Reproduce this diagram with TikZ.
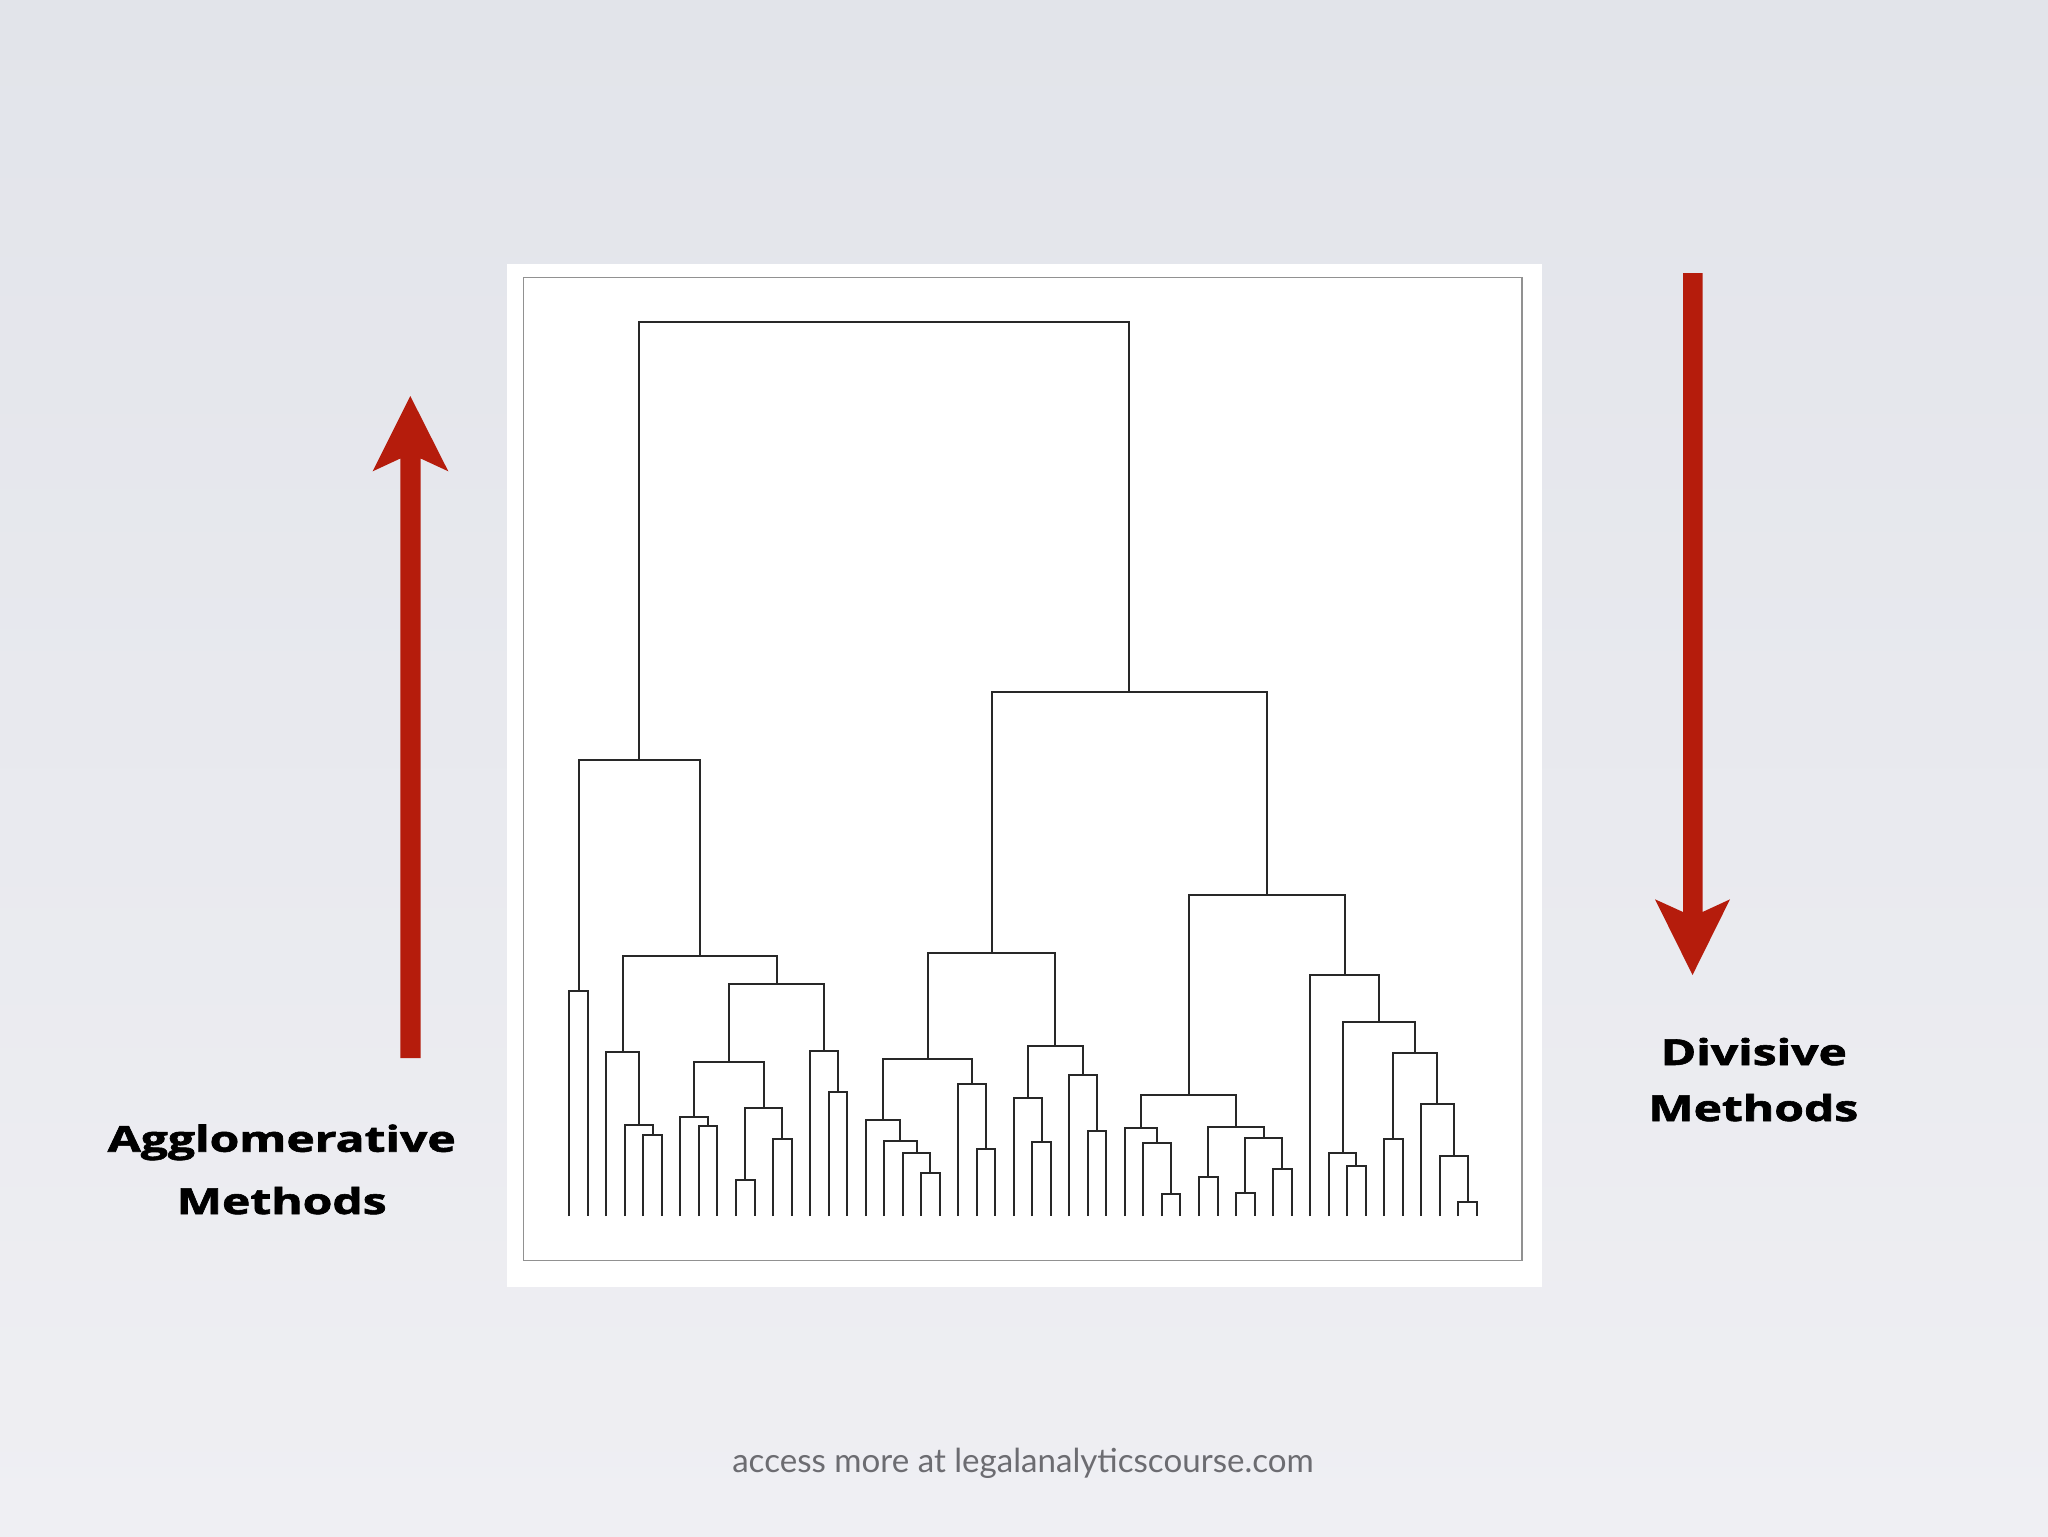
\documentclass[tikz,border=0pt]{standalone}
\usepackage{fontspec}
\usepackage{graphicx}
\setmainfont{Open Sans}
\newfontfamily\headfont[BoldFeatures={FakeBold=1.6}]{Open Sans}
\newfontfamily\footfont{Lato}
\definecolor{arrowred}{RGB}{181,28,12}
\definecolor{bgtop}{RGB}{226,228,234}
\definecolor{bgbot}{RGB}{239,239,243}
\definecolor{framegray}{RGB}{145,145,145}
\definecolor{dendcol}{RGB}{40,40,40}
\definecolor{footgray}{RGB}{108,108,113}
\newcommand\dmerge[5]{\coordinate (#1) at (#4,#5); \draw[dend] (#2) |- (#1) -| (#3);}
\begin{document}
\begin{tikzpicture}[x=0.5pt,y=-0.5pt,
  dend/.style={draw=dendcol, line width=1pt},
  lbl/.style={font=\headfont\bfseries\fontsize{17.9}{20}\selectfont, text=black, inner sep=0pt, anchor=base},
  foot/.style={font=\footfont\fontsize{17}{19}\selectfont, text=footgray, inner sep=0pt, anchor=base}]
\useasboundingbox (0,0) rectangle (2048,1536);
\shade[top color=bgtop, bottom color=bgbot] (0,0) rectangle (2048,1536);
% frame
\fill[white] (506.5,264) rectangle (1542,1287);
\draw[framegray, line width=0.8pt] (523.5,277.5) rectangle (1521.7,1260.5);
% dendrogram
\begin{scope}[shift={(569.3,0)}, x=9.26pt]
\foreach \i in {0,...,49} \coordinate (l\i) at (\i,1216);
\dmerge{A}{l0}{l1}{0.5}{990.7}
\dmerge{B1}{l4}{l5}{4.5}{1135}
\dmerge{B2}{l3}{B1}{3.75}{1125.3}
\dmerge{B3}{l2}{B2}{2.875}{1051.7}
\dmerge{C1}{l7}{l8}{7.5}{1125.7}
\dmerge{C2}{l6}{C1}{6.75}{1117}
\dmerge{C3}{l9}{l10}{9.5}{1179.7}
\dmerge{C4}{l11}{l12}{11.5}{1138.7}
\dmerge{C5}{C3}{C4}{10.5}{1108}
\dmerge{C6}{C2}{C5}{8.625}{1061.7}
\dmerge{D1}{l14}{l15}{14.5}{1092.3}
\dmerge{D2}{l13}{D1}{13.75}{1051.3}
\dmerge{E1}{C6}{D2}{11.1875}{984.3}
\dmerge{E2}{B3}{E1}{7.03125}{955.7}
\dmerge{Lc}{A}{E2}{3.765625}{760}
\dmerge{F1}{l19}{l20}{19.5}{1173.3}
\dmerge{F2}{l18}{F1}{18.75}{1153.3}
\dmerge{F3}{l17}{F2}{17.875}{1140.7}
\dmerge{F4}{l16}{F3}{16.9375}{1120}
\dmerge{G1}{l22}{l23}{22.5}{1149}
\dmerge{G2}{l21}{G1}{21.75}{1083.7}
\dmerge{H1}{F4}{G2}{19.34375}{1059}
\dmerge{I1}{l25}{l26}{25.5}{1142.3}
\dmerge{I2}{l24}{I1}{24.75}{1097.7}
\dmerge{J1}{l28}{l29}{28.5}{1131}
\dmerge{J2}{l27}{J1}{27.75}{1075.3}
\dmerge{K1}{I2}{J2}{26.25}{1045.7}
\dmerge{M1}{H1}{K1}{22.796875}{952.7}
\dmerge{N1}{l32}{l33}{32.5}{1193.5}
\dmerge{N2}{l31}{N1}{31.75}{1143.3}
\dmerge{N3}{l30}{N2}{30.875}{1127.7}
\dmerge{O1}{l34}{l35}{34.5}{1177.3}
\dmerge{O2}{l36}{l37}{36.5}{1192.7}
\dmerge{O3}{l38}{l39}{38.5}{1169.3}
\dmerge{O4}{O2}{O3}{37.5}{1137.7}
\dmerge{O5}{O1}{O4}{36}{1127.3}
\dmerge{P1}{N3}{O5}{33.4375}{1095.3}
\dmerge{Q1}{l42}{l43}{42.5}{1165.7}
\dmerge{Q2}{l41}{Q1}{41.75}{1153.3}
\dmerge{R1}{l44}{l45}{44.5}{1139.3}
\dmerge{S1}{l48}{l49}{48.5}{1202.3}
\dmerge{S2}{l47}{S1}{47.75}{1156}
\dmerge{S3}{l46}{S2}{46.875}{1104.3}
\dmerge{T1}{R1}{S3}{45.6875}{1052.7}
\dmerge{T2}{Q2}{T1}{43.71875}{1021.7}
\dmerge{T3}{l40}{T2}{41.859375}{975.3}
\dmerge{U1}{P1}{T3}{37.6484375}{894.5}
\dmerge{V1}{M1}{U1}{30.22265625}{692.2}
\dmerge{Root}{Lc}{V1}{16.994140625}{322}
\end{scope}
% arrows
\fill[arrowred] (400.3,1058) -- (400.3,458.5) -- (372.7,471.3) -- (410.3,396)
  -- (448.3,471.3) -- (420.7,458.5) -- (420.7,1058) -- cycle;
\fill[arrowred] (1683,273) -- (1683,912) -- (1655,899.3) -- (1692.5,975)
  -- (1730,899.3) -- (1702.5,912) -- (1702.5,273) -- cycle;
% labels
\node[lbl] (agg1) at (281.7,1151.7) {\scalebox{1.34}[1]{Agglomerative}};
\node[lbl] (agg2) at (281.7,1214) {\scalebox{1.34}[1]{Methods}};
\node[lbl] (div1) at (1753.8,1065) {\scalebox{1.34}[1]{Divisive}};
\node[lbl] (div2) at (1753.3,1121) {\scalebox{1.34}[1]{Methods}};
\node[foot] (footer) at (1023,1472) {\resizebox{290.7pt}{!}{access more at legalanalyticscourse.com}};
\end{tikzpicture}
\end{document}
